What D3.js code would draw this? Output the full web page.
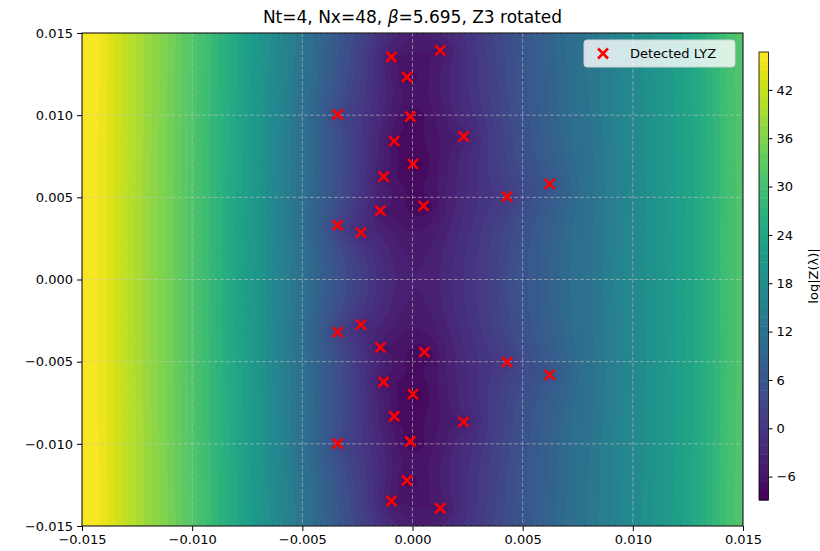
<!DOCTYPE html>
<html>
<head>
<meta charset="utf-8">
<script src="https://cdn.jsdelivr.net/npm/d3@7"></script>
<style>
  body { margin: 0; background: #fff; }
  text { font-family: "DejaVu Sans", sans-serif; fill: #000; }
</style>
</head>
<body>
<svg id="chart" width="820" height="551"></svg>
<script>
// ---- data -------------------------------------------------------------
const xDomain = [-0.015, 0.015];
const yDomain = [-0.015, 0.015];
const xTicks = [-0.015, -0.010, -0.005, 0.000, 0.005, 0.010, 0.015];
const yTicks = [-0.015, -0.010, -0.005, 0.000, 0.005, 0.010, 0.015];
const colorTicks = [-6, 0, 6, 12, 18, 24, 30, 36, 42];

// detected Lee-Yang zeros (real, imaginary parts)
const zeroRe = [-0.00096, 0.00126, -0.00025, -0.00340, -0.00010, -0.00083, 0.00232, 0.00002,
                -0.00131, 0.00622, 0.00429, -0.00146, 0.00050, -0.00340, -0.00234,
                -0.00340, -0.00234, -0.00146, 0.00054, 0.00429, 0.00622, -0.00131, 0.00002,
                -0.00083, 0.00232, -0.00340, -0.00010, -0.00025, -0.00096, 0.00126];
const zeroIm = [0.01354, 0.01394, 0.01232, 0.01004, 0.00992, 0.00842, 0.00870, 0.00704,
                0.00626, 0.00582, 0.00504, 0.00419, 0.00448, 0.00330, 0.00285,
                -0.00320, -0.00275, -0.00413, -0.00442, -0.00503, -0.00580, -0.00624, -0.00698,
                -0.00832, -0.00866, -0.00998, -0.00986, -0.01222, -0.01348, -0.01392];

// smooth background of log|Z| along the real axis
const profileRe   = [-0.015, -0.0125, -0.010, -0.0075, -0.005, -0.0025, 0.000,
                      0.0025, 0.005, 0.0075, 0.010, 0.0125, 0.015];
const profileLogZ = [47.6, 40.0, 32.0, 23.0, 13.5, 4.5, -1.8,
                      1.5, 7.0, 12.5, 18.0, 24.0, 32.0];

const levelMin = -8.9, levelMax = 46.7, levelCount = 50;
const zeroCore = 0.0028;   // width of the dip around each zero

// ---- layout -----------------------------------------------------------
const plot = { left: 82, top: 33, width: 661, height: 493 };
const cbar = { left: 759, top: 52, width: 9.5, height: 448 };

const svg = d3.select("#chart");
const xScale = d3.scaleLinear().domain(xDomain).range([plot.left, plot.left + plot.width]);
const yScale = d3.scaleLinear().domain(yDomain).range([plot.top + plot.height, plot.top]);

const levels = d3.range(levelCount).map(i => levelMin + i * (levelMax - levelMin) / (levelCount - 1));
const bandColor = i => d3.interpolateViridis((i + 0.5) / (levelCount - 1));

// Catmull-Rom through the profile samples
function profileAt(x) {
  const n = profileRe.length;
  let k = d3.bisectRight(profileRe, x) - 1;
  k = Math.max(0, Math.min(n - 2, k));
  const x0 = profileRe[k], x1 = profileRe[k + 1];
  const t = (x - x0) / (x1 - x0);
  const p0 = profileLogZ[Math.max(0, k - 1)], p1 = profileLogZ[k],
        p2 = profileLogZ[k + 1], p3 = profileLogZ[Math.min(n - 1, k + 2)];
  const t2 = t * t, t3 = t2 * t;
  return 0.5 * ((2 * p1) + (-p0 + p2) * t + (2 * p0 - 5 * p1 + 4 * p2 - p3) * t2 + (-p0 + 3 * p1 - 3 * p2 + p3) * t3);
}

function logZ(x, y) {
  let v = profileAt(x);
  const s2 = zeroCore * zeroCore;
  for (let k = 0; k < zeroRe.length; k++) {
    const dx = x - zeroRe[k], dy = y - zeroIm[k];
    const d2 = dx * dx + dy * dy + 1e-14;
    v += 0.5 * Math.log(d2 / (d2 + s2));
  }
  return Math.max(levelMin, Math.min(levelMax - 1e-9, v));
}

// ---- filled contours --------------------------------------------------
const nx = 331, ny = 247;
const gx = (xDomain[1] - xDomain[0]) / (nx - 1);
const gy = (yDomain[1] - yDomain[0]) / (ny - 1);
const grid = new Float64Array(nx * ny);
for (let j = 0; j < ny; j++) {
  const y = yDomain[1] - j * gy;
  for (let i = 0; i < nx; i++) grid[j * nx + i] = logZ(xDomain[0] + i * gx, y);
}

const contours = d3.contours().size([nx, ny]).thresholds(levels.slice(0, -1))(grid);
const toPlot = d3.geoTransform({
  point(cx, cy) {
    this.stream.point(xScale(xDomain[0] + cx * gx), yScale(yDomain[1] - cy * gy));
  }
});
const path = d3.geoPath(toPlot);

svg.append("clipPath").attr("id", "plotClip")
  .append("rect").attr("x", plot.left).attr("y", plot.top)
  .attr("width", plot.width).attr("height", plot.height);

const field = svg.append("g").attr("clip-path", "url(#plotClip)");
field.append("rect").attr("x", plot.left).attr("y", plot.top)
  .attr("width", plot.width).attr("height", plot.height).attr("fill", bandColor(0));
field.selectAll("path.band").data(contours).join("path")
  .attr("class", "band")
  .attr("d", path)
  .attr("fill", (d, i) => bandColor(i))
  .attr("stroke", (d, i) => bandColor(i))
  .attr("stroke-width", 0.4);

// ---- grid -------------------------------------------------------------
const gridG = svg.append("g").attr("clip-path", "url(#plotClip)")
  .attr("stroke", "#c8c8c8").attr("stroke-opacity", 0.55)
  .attr("stroke-width", 1).attr("stroke-dasharray", "4,2");
gridG.selectAll("line.gx").data(xTicks).join("line")
  .attr("x1", d => xScale(d)).attr("x2", d => xScale(d))
  .attr("y1", plot.top).attr("y2", plot.top + plot.height);
gridG.selectAll("line.gy").data(yTicks).join("line")
  .attr("y1", d => yScale(d)).attr("y2", d => yScale(d))
  .attr("x1", plot.left).attr("x2", plot.left + plot.width);

// ---- zeros ------------------------------------------------------------
const zeros = zeroRe.map((re, i) => ({ re, im: zeroIm[i] }));
const cross = (cx, cy, r) => `M${cx - r},${cy - r}L${cx + r},${cy + r}M${cx - r},${cy + r}L${cx + r},${cy - r}`;
svg.append("g").selectAll("path").data(zeros).join("path")
  .attr("d", d => cross(xScale(d.re), yScale(d.im), 5))
  .attr("stroke", "#ff0000").attr("stroke-width", 2.6).attr("fill", "none");

// ---- axes -------------------------------------------------------------
const fmt = d3.format(".3f");
const xAxis = svg.append("g").attr("transform", `translate(0,${plot.top + plot.height})`)
  .call(d3.axisBottom(xScale).tickValues(xTicks).tickFormat(fmt).tickSize(5).tickPadding(4));
const yAxis = svg.append("g").attr("transform", `translate(${plot.left},0)`)
  .call(d3.axisLeft(yScale).tickValues(yTicks).tickFormat(fmt).tickSize(5).tickPadding(4));
[xAxis, yAxis].forEach(a => {
  a.select(".domain").remove();
  a.selectAll("text").style("font-size", "13px").attr("fill", "#000");
  a.selectAll("line").attr("stroke", "#000");
});
svg.append("rect").attr("x", plot.left).attr("y", plot.top)
  .attr("width", plot.width).attr("height", plot.height)
  .attr("fill", "none").attr("stroke", "#000").attr("stroke-width", 1);

// ---- title ------------------------------------------------------------
const title = svg.append("text").attr("x", plot.left + plot.width / 2).attr("y", 23)
  .attr("text-anchor", "middle").style("font-size", "17px");
title.append("tspan").text("Nt=4, Nx=48, ");
title.append("tspan").style("font-style", "italic").text("β");
title.append("tspan").text("=5.695, Z3 rotated");

// ---- legend -----------------------------------------------------------
const legend = svg.append("g");
legend.append("rect").attr("x", 584).attr("y", 40).attr("width", 151).attr("height", 27)
  .attr("rx", 3).attr("fill", "#fff").attr("fill-opacity", 0.8)
  .attr("stroke", "#d0d0d0").attr("stroke-width", 1);
legend.append("path").attr("d", cross(603, 53.5, 5))
  .attr("stroke", "#ff0000").attr("stroke-width", 2.6).attr("fill", "none");
legend.append("text").attr("x", 630).attr("y", 58).style("font-size", "13px").text("Detected LYZ");

// ---- colorbar ---------------------------------------------------------
const cScale = d3.scaleLinear().domain([levelMin, levelMax]).range([cbar.top + cbar.height, cbar.top]);
const cbG = svg.append("g");
cbG.selectAll("rect.cb").data(d3.range(levelCount - 1)).join("rect")
  .attr("class", "cb")
  .attr("x", cbar.left).attr("width", cbar.width)
  .attr("y", i => cScale(levels[i + 1]))
  .attr("height", i => cScale(levels[i]) - cScale(levels[i + 1]) + 0.5)
  .attr("fill", i => bandColor(i));
cbG.append("rect").attr("x", cbar.left).attr("y", cbar.top)
  .attr("width", cbar.width).attr("height", cbar.height)
  .attr("fill", "none").attr("stroke", "#000").attr("stroke-width", 0.8);
const cAxis = svg.append("g").attr("transform", `translate(${cbar.left + cbar.width},0)`)
  .call(d3.axisRight(cScale).tickValues(colorTicks).tickFormat(d3.format("d")).tickSize(4).tickPadding(4));
cAxis.select(".domain").remove();
cAxis.selectAll("text").style("font-size", "13px").attr("fill", "#000");
cAxis.selectAll("line").attr("stroke", "#000");

svg.append("text")
  .attr("transform", `translate(813,${cbar.top + cbar.height / 2}) rotate(-90)`)
  .attr("text-anchor", "middle").attr("dy", "0.35em")
  .style("font-size", "13px").text("log|Z(λ)|");
</script>
</body>
</html>
